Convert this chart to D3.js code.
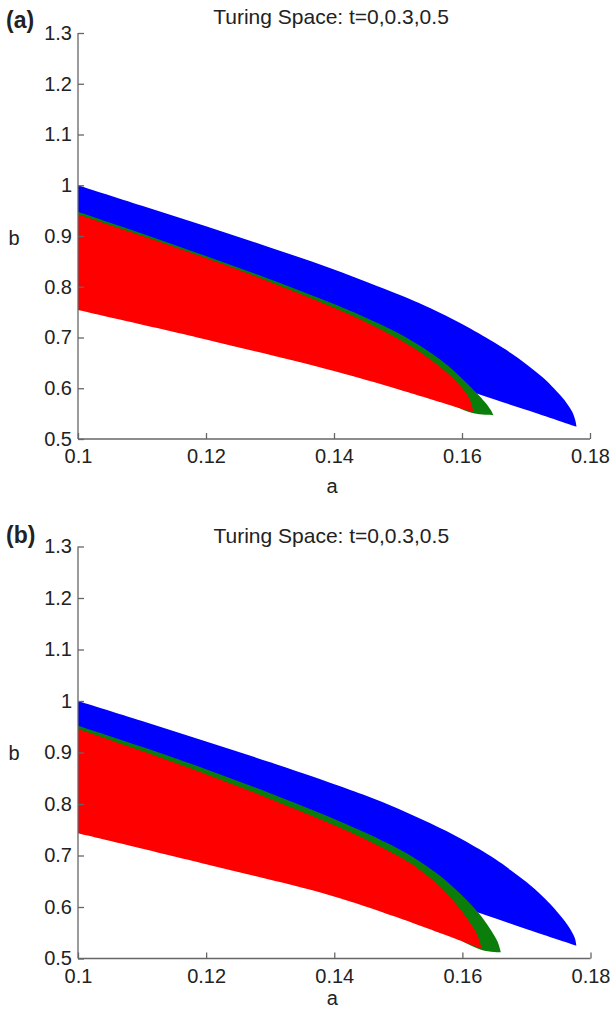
<!DOCTYPE html>
<html>
<head>
<meta charset="utf-8">
<script src="https://cdn.jsdelivr.net/npm/d3@7"></script>
<style>
  html, body { margin: 0; padding: 0; background: #fff; }
  svg { display: block; }
  text { font-family: "Liberation Sans", Arial, Helvetica, sans-serif; fill: #222; }
</style>
</head>
<body>
<svg id="chart" width="611" height="1012"></svg>
<script>
// ---- Data (a, b) pairs ----
const aTicks = [0.1, 0.12, 0.14, 0.16, 0.18];
const aTickLabels = ["0.1", "0.12", "0.14", "0.16", "0.18"];
const bTicks = [0.5, 0.6, 0.7, 0.8, 0.9, 1.0, 1.1, 1.2, 1.3];
const bTickLabels = ["0.5", "0.6", "0.7", "0.8", "0.9", "1", "1.1", "1.2", "1.3"];
const titleText = "Turing Space: t=0,0.3,0.5";

// Panel (a)
const pA_blueUpper  = [[0.1,1.0],[0.11,0.9595],[0.12,0.919],[0.13,0.8775],[0.14,0.834],[0.15,0.785],[0.155,0.758],[0.16,0.7265],[0.165,0.6905],[0.1675,0.6705],[0.17,0.648],[0.1725,0.6225],[0.174,0.6045],[0.1755,0.584],[0.1765,0.568],[0.1772,0.554],[0.1777,0.537],[0.1779,0.524]];
const pA_blueLower  = [[0.1779,0.524],[0.1701,0.557],[0.1623,0.5896],[0.15,0.641],[0.13,0.71],[0.1,0.80]];
const pA_greenUpper = [[0.1,0.948],[0.11,0.905],[0.12,0.8605],[0.13,0.815],[0.14,0.766],[0.145,0.739],[0.15,0.709],[0.153,0.687],[0.156,0.662],[0.1585,0.637],[0.161,0.607],[0.1635,0.574],[0.1645,0.557],[0.1649,0.547]];
const pA_greenLower = [[0.1649,0.547],[0.1618,0.5505],[0.155,0.585],[0.14,0.64],[0.1,0.76]];
const pA_redUpper   = [[0.1,0.9425],[0.11,0.9005],[0.12,0.8565],[0.13,0.8095],[0.14,0.7585],[0.145,0.730],[0.15,0.6975],[0.153,0.675],[0.156,0.648],[0.1585,0.6205],[0.1605,0.5925],[0.1613,0.5749],[0.1618,0.5524]];
const pA_redLower   = [[0.1618,0.5524],[0.15,0.598],[0.14,0.634],[0.12,0.696],[0.1,0.754]];

// Panel (b)
const pB_blueUpper  = [[0.1,1.0],[0.11,0.961],[0.12,0.9215],[0.13,0.881],[0.14,0.8385],[0.145,0.816],[0.15,0.791],[0.155,0.7625],[0.16,0.731],[0.165,0.694],[0.1675,0.672],[0.17,0.6485],[0.1725,0.621],[0.174,0.602],[0.1755,0.580],[0.1765,0.5635],[0.1772,0.549],[0.1776,0.538],[0.1778,0.525]];
const pB_blueLower  = [[0.1778,0.525],[0.1703,0.556],[0.1628,0.5877],[0.15,0.641],[0.13,0.705],[0.1,0.79]];
const pB_greenUpper = [[0.1,0.952],[0.11,0.911],[0.12,0.8675],[0.13,0.821],[0.14,0.771],[0.145,0.7435],[0.15,0.713],[0.153,0.6914],[0.156,0.6653],[0.1585,0.6393],[0.161,0.6093],[0.163,0.5813],[0.1645,0.5543],[0.1655,0.5323],[0.166,0.512]];
const pB_greenLower = [[0.166,0.512],[0.163,0.5165],[0.155,0.565],[0.14,0.625],[0.1,0.75]];
const pB_redUpper   = [[0.1,0.9458],[0.11,0.9028],[0.12,0.8578],[0.13,0.8098],[0.14,0.7588],[0.145,0.7308],[0.15,0.6988],[0.153,0.6754],[0.156,0.6454],[0.158,0.6204],[0.16,0.5904],[0.1615,0.5634],[0.1624,0.5436],[0.163,0.519]];
const pB_redLower   = [[0.163,0.519],[0.1497,0.5805],[0.1393,0.623],[0.12,0.683],[0.1,0.743]];

const colors = { blue: "#0000ff", green: "#0a7d0a", red: "#ff0000" };

const panels = [
  { tag: "(a)", xr: [78, 590], yr: [439, 33], tagY: 28, titleY: 24, bLabelY: 245, aLabelY: 493,
    regions: [[pA_blueUpper, pA_blueLower, colors.blue], [pA_greenUpper, pA_greenLower, colors.green], [pA_redUpper, pA_redLower, colors.red]] },
  { tag: "(b)", xr: [78, 590.5], yr: [958.5, 546.5], tagY: 543, titleY: 543, bLabelY: 760, aLabelY: 1005,
    regions: [[pB_blueUpper, pB_blueLower, colors.blue], [pB_greenUpper, pB_greenLower, colors.green], [pB_redUpper, pB_redLower, colors.red]] }
];

const svg = d3.select("#chart");

panels.forEach(p => {
  const x = d3.scaleLinear().domain([0.1, 0.18]).range(p.xr);
  const y = d3.scaleLinear().domain([0.5, 1.3]).range(p.yr);
  const g = svg.append("g");

  const line = d3.line().x(d => x(d[0])).y(d => y(d[1])).curve(d3.curveCatmullRom.alpha(0.5));
  p.regions.forEach(([up, lo, col]) => {
    const path = line(up) + line(lo).replace(/^M/, "L") + "Z";
    g.append("path").attr("d", path).attr("fill", col).attr("stroke", "none");
  });

  // Axes
  const xAxis = d3.axisBottom(x).tickValues(aTicks).tickSize(-6).tickPadding(10)
    .tickFormat((d, i) => aTickLabels[i]);
  const yAxis = d3.axisLeft(y).tickValues(bTicks).tickSize(-6).tickPadding(6)
    .tickFormat((d, i) => bTickLabels[i]);

  const gx = g.append("g").attr("transform", `translate(0,${p.yr[0]})`).call(xAxis);
  const gy = g.append("g").attr("transform", `translate(${p.xr[0]},0)`).call(yAxis);
  [gx, gy].forEach(ax => {
    ax.select(".domain").attr("stroke", "#666").attr("stroke-width", 1.3);
    ax.selectAll(".tick line").attr("stroke", "#666").attr("stroke-width", 1.3);
    ax.selectAll(".tick text").attr("font-size", 20).attr("fill", "#222")
      .attr("font-family", "Liberation Sans, Arial, sans-serif");
  });
  gy.select(".domain").attr("d", `M0,${p.yr[0]}V${p.yr[1]}`);
  gx.select(".domain").attr("d", `M0,0H${p.xr[1] - p.xr[0]}`).attr("transform", `translate(${p.xr[0]},0)`);

  // Title
  g.append("text").attr("x", (p.xr[0] + p.xr[1]) / 2 - 3).attr("y", p.titleY)
    .attr("text-anchor", "middle").attr("font-size", 21).text(titleText);
  // Panel tag
  g.append("text").attr("x", 6).attr("y", p.tagY)
    .attr("font-family", "Liberation Serif, Times New Roman, serif").attr("font-weight", "bold")
    .attr("font-size", 23).text(p.tag);
  // Axis labels
  g.append("text").attr("x", 14).attr("y", p.bLabelY).attr("text-anchor", "middle")
    .attr("font-size", 20).text("b");
  g.append("text").attr("x", (p.xr[0] + p.xr[1]) / 2 - 2).attr("y", p.aLabelY).attr("text-anchor", "middle")
    .attr("font-size", 20).text("a");
});
</script>
</body>
</html>
